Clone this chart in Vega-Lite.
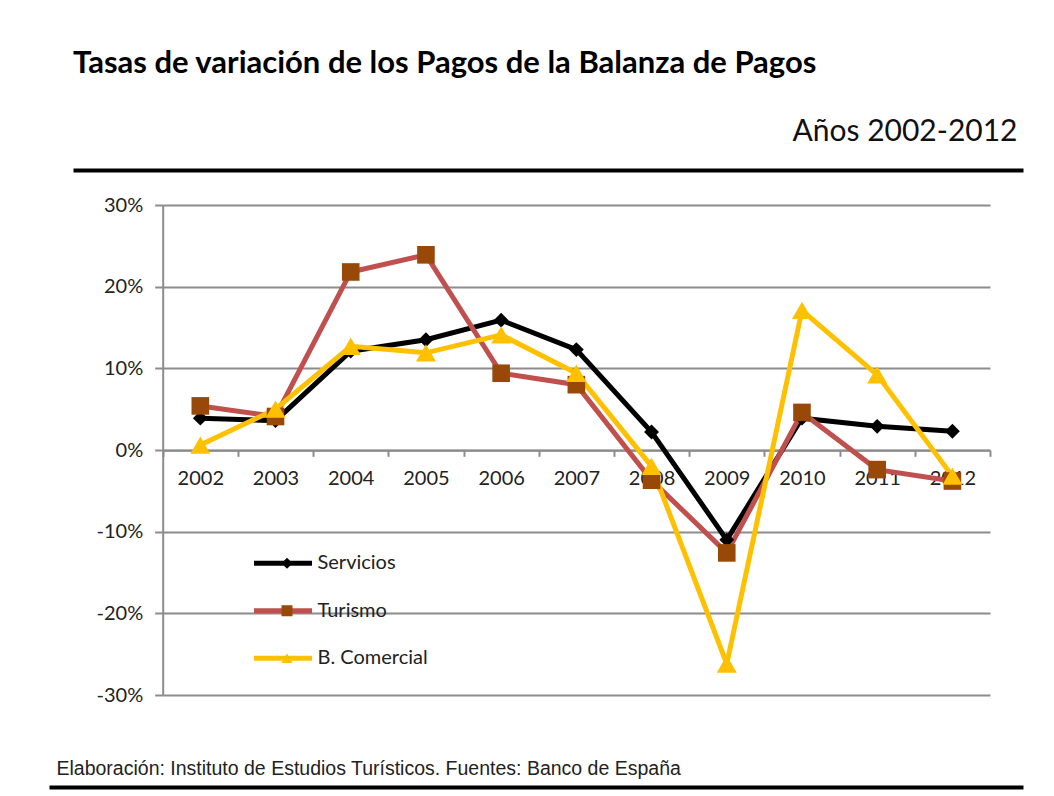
{
  "$schema": "https://vega.github.io/schema/vega-lite/v6.json",
  "width": 974,
  "height": 490,
  "autosize": {"type": "none"},
  "padding": {"left": 49, "top": 205, "right": 31, "bottom": 101},
  "background": "white",
  "config": {"view": {"stroke": null}, "font": "Lato"},
  "title": {
    "text": "Tasas de variación de los Pagos de la Balanza de Pagos",
    "anchor": "start",
    "frame": "group",
    "font": "Lato",
    "fontSize": 31,
    "fontWeight": "bold",
    "color": "#000000",
    "baseline": "alphabetic",
    "offset": 12,
    "dx": 24
  },
  "data": {
    "values": [
      {"year": "2002", "serie": "Servicios", "value": 3.9},
      {"year": "2003", "serie": "Servicios", "value": 3.6},
      {"year": "2004", "serie": "Servicios", "value": 12.1},
      {"year": "2005", "serie": "Servicios", "value": 13.5},
      {"year": "2006", "serie": "Servicios", "value": 15.9},
      {"year": "2007", "serie": "Servicios", "value": 12.3},
      {"year": "2008", "serie": "Servicios", "value": 2.2},
      {"year": "2009", "serie": "Servicios", "value": -11.0},
      {"year": "2010", "serie": "Servicios", "value": 3.9},
      {"year": "2011", "serie": "Servicios", "value": 2.9},
      {"year": "2012", "serie": "Servicios", "value": 2.3},
      {"year": "2002", "serie": "Turismo", "value": 5.4},
      {"year": "2003", "serie": "Turismo", "value": 4.1},
      {"year": "2004", "serie": "Turismo", "value": 21.8},
      {"year": "2005", "serie": "Turismo", "value": 23.9},
      {"year": "2006", "serie": "Turismo", "value": 9.4},
      {"year": "2007", "serie": "Turismo", "value": 8.0},
      {"year": "2008", "serie": "Turismo", "value": -3.7},
      {"year": "2009", "serie": "Turismo", "value": -12.6},
      {"year": "2010", "serie": "Turismo", "value": 4.6},
      {"year": "2011", "serie": "Turismo", "value": -2.4},
      {"year": "2012", "serie": "Turismo", "value": -3.8},
      {"year": "2002", "serie": "B. Comercial", "value": 0.6},
      {"year": "2003", "serie": "B. Comercial", "value": 5.0},
      {"year": "2004", "serie": "B. Comercial", "value": 12.7},
      {"year": "2005", "serie": "B. Comercial", "value": 11.9},
      {"year": "2006", "serie": "B. Comercial", "value": 14.1},
      {"year": "2007", "serie": "B. Comercial", "value": 9.4},
      {"year": "2008", "serie": "B. Comercial", "value": -2.0},
      {"year": "2009", "serie": "B. Comercial", "value": -26.2},
      {"year": "2010", "serie": "B. Comercial", "value": 17.1},
      {"year": "2011", "serie": "B. Comercial", "value": 9.2},
      {"year": "2012", "serie": "B. Comercial", "value": -3.2}
    ]
  },
  "resolve": {"scale": {"x": "independent"}, "axis": {"x": "independent"}},
  "layer": [
    {
      "mark": {"type": "point", "opacity": 0},
      "encoding": {
        "x": {
          "field": "year",
          "type": "ordinal",
          "scale": {"type": "band", "range": [24, 974]},
          "axis": {
            "orient": "top",
            "offset": 35,
            "domainColor": "#000000",
            "domainWidth": 4,
            "labels": false,
            "ticks": false,
            "grid": false,
            "title": "Años 2002-2012",
            "titleFont": "Lato",
            "titleFontSize": 30,
            "titleFontWeight": "normal",
            "titleColor": "#111111",
            "titleAlign": "right",
            "titleBaseline": "alphabetic",
            "titleX": 968,
            "titleY": -30
          }
        }
      }
    },
    {
      "mark": {"type": "point", "opacity": 0},
      "encoding": {
        "x": {
          "field": "year",
          "type": "ordinal",
          "scale": {"type": "band", "range": [0, 974]},
          "axis": {
            "orient": "bottom",
            "offset": 92,
            "domainColor": "#000000",
            "domainWidth": 4,
            "labels": false,
            "ticks": false,
            "grid": false,
            "title": "Elaboración: Instituto de Estudios Turísticos. Fuentes: Banco de España",
            "titleFont": "Liberation Sans",
            "titleFontSize": 19.5,
            "titleFontWeight": "normal",
            "titleColor": "#222222",
            "titleAlign": "left",
            "titleBaseline": "alphabetic",
            "titleX": 7,
            "titleY": -13
          }
        }
      }
    },
    {
      "layer": [
        {
          "mark": {"type": "line", "strokeWidth": 5},
          "encoding": {
            "x": {
              "field": "year",
              "type": "ordinal",
              "bandPosition": 0.5,
              "scale": {"type": "band", "paddingInner": 0, "paddingOuter": 0, "range": [113.7, 941]},
              "axis": {
                "orient": "bottom",
                "offset": -244.7,
                "title": null,
                "labelAngle": 0,
                "labelFont": "Lato",
                "labelFontSize": 20,
                "labelColor": "#222222",
                "labelPadding": 12,
                "tickBand": "extent",
                "tickSize": 6,
                "tickColor": "#8C8C8C",
                "tickWidth": 2,
                "domainColor": "#8C8C8C",
                "domainWidth": 2,
                "grid": false
              }
            },
            "y": {
              "field": "value",
              "type": "quantitative",
              "scale": {"domain": [-30, 30], "nice": false, "zero": false},
              "axis": {
                "orient": "left",
                "offset": -113.7,
                "title": null,
                "values": [-30, -20, -10, 0, 10, 20, 30],
                "labelExpr": "datum.value + '%'",
                "labelFont": "Lato",
                "labelFontSize": 20,
                "labelColor": "#222222",
                "labelPadding": 12,
                "tickSize": 8,
                "tickColor": "#8C8C8C",
                "tickWidth": 2,
                "domainColor": "#8C8C8C",
                "domainWidth": 2,
                "grid": true,
                "gridColor": "#8C8C8C",
                "gridWidth": 2
              }
            },
            "stroke": {
              "field": "serie",
              "type": "nominal",
              "sort": ["Servicios", "Turismo", "B. Comercial"],
              "scale": {"range": ["#000000", "#C0504D", "#FFC000"]},
              "legend": {
                "orient": "none",
                "legendX": 202.5,
                "legendY": 348.3,
                "title": null,
                "padding": 0,
                "symbolType": "stroke",
                "symbolSize": 3364,
                "symbolStrokeWidth": 5,
                "clipHeight": 20,
                "rowPadding": 27.5,
                "labelFont": "Lato",
                "labelFontSize": 20,
                "labelColor": "#222222",
                "labelOffset": 3
              }
            },
            "order": {"field": "year", "type": "ordinal"}
          }
        },
        {
          "mark": {"type": "point", "filled": true, "opacity": 1},
          "encoding": {
            "x": {"field": "year", "type": "ordinal", "bandPosition": 0.5},
            "y": {"field": "value", "type": "quantitative"},
            "color": {
              "field": "serie",
              "type": "nominal",
              "scale": {"domain": ["Servicios", "Turismo", "B. Comercial"], "range": ["#000000", "#984807", "#FFC000"]},
              "legend": {
                "orient": "none",
                "legendX": 228,
                "legendY": 348.3,
                "title": null,
                "padding": 0,
                "zindex": 2,
                "symbolSize": 120,
                "symbolStrokeWidth": 0,
                "clipHeight": 20,
                "rowPadding": 27.5,
                "labelFont": "Lato",
                "labelFontSize": 20,
                "labelExpr": "''"
              }
            },
            "shape": {
              "field": "serie",
              "type": "nominal",
              "scale": {"domain": ["Servicios", "Turismo", "B. Comercial"], "range": ["diamond", "square", "triangle-up"]},
              "legend": {
                "orient": "none",
                "legendX": 228,
                "legendY": 348.3,
                "title": null,
                "padding": 0,
                "zindex": 2,
                "symbolSize": 120,
                "symbolStrokeWidth": 0,
                "clipHeight": 20,
                "rowPadding": 27.5,
                "labelFont": "Lato",
                "labelFontSize": 20,
                "labelExpr": "''"
              }
            },
            "size": {
              "field": "serie",
              "type": "nominal",
              "sort": ["Servicios", "Turismo", "B. Comercial"],
              "scale": {"range": [220, 400, 330]},
              "legend": null
            }
          }
        }
      ]
    }
  ]
}
